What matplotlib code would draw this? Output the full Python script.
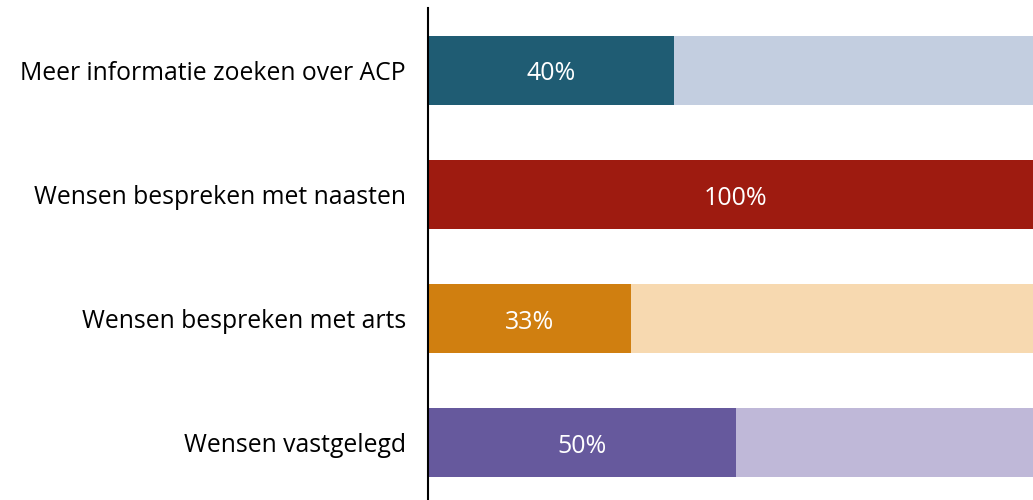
import matplotlib
matplotlib.use("Agg")
import matplotlib.pyplot as plt

categories = ["Meer informatie zoeken over ACP", "Wensen bespreken met naasten",
              "Wensen bespreken met arts", "Wensen vastgelegd"]
values = [40, 100, 33, 50]
dark_colors = ["#1F5C73", "#9E1B10", "#D07F10", "#66599D"]
light_colors = ["#C3CEE0", "#F2C8C0", "#F7D9B0", "#BFB8D8"]

plt.rcParams['font.family'] = ['Open Sans', 'DejaVu Sans']

fig = plt.figure(figsize=(10.33, 5.0), dpi=100)
ax = fig.add_axes([428/1033, -5/500, 616/1033, 497/500])

pos = list(range(len(categories)))
ax.barh(pos, [100]*len(values), height=0.555, color=light_colors, linewidth=0)
ax.barh(pos, values, height=0.555, color=dark_colors, linewidth=0)
for p, v in zip(pos, values):
    ax.text(v/2, p + 0.03, f"{v}%", ha="center", va="center", color="white", fontsize=18)

ax.set_xlim(0, 100)
ax.set_ylim(3.5, -0.5)
ax.set_yticks(pos)
ax.set_yticklabels(categories, fontsize=17.8)
ax.tick_params(axis="y", length=0, pad=16)
ax.set_xticks([])
for s in ["top", "right", "bottom"]:
    ax.spines[s].set_visible(False)
ax.spines["left"].set_linewidth(1.5)

fig.savefig("out.png", dpi=100)
